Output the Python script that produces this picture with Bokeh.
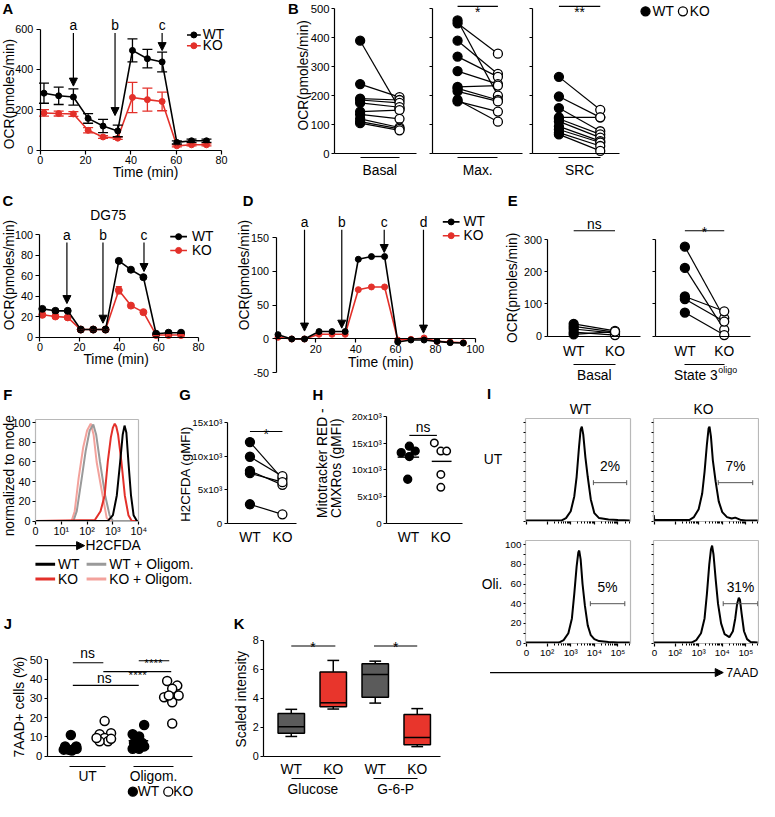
import numpy as np
from bokeh.plotting import figure
from bokeh.models import (Range1d, LinearAxis, FixedTicker, Arrow, NormalHead,
                          Whisker, TeeHead, ColumnDataSource)
from bokeh.core.properties import value
from bokeh.embed import file_html
from bokeh.resources import INLINE

# =============================== DATA ===============================
# A  OCR time course, primary cells (pmoles/min)
a_time = [1.6, 8.1, 14.6, 21.1, 27.7, 34.2, 40.7, 47.3, 53.8, 60.3, 66.8, 73.4]
a_wt = [282, 269, 263, 157, 119, 95, 494, 453, 437, 38, 46, 46]
a_wt_err = [50, 43, 40, 24, 33, 29, 57, 46, 49, 8, 8, 8]
a_ko = [184, 181, 179, 98, 65, 59, 261, 250, 241, 21, 26, 26]
a_ko_err = [16, 12, 12, 13, 7, 6, 75, 57, 46, 5, 5, 5]
a_ticks_x = [0, 20, 40, 60, 80]
a_ticks_y = [0, 200, 400, 600]

# B  paired OCR values (pmoles/min)
b_basal_wt = [390, 240, 190, 185, 175, 145, 135, 120, 110, 105]
b_basal_ko = [155, 195, 185, 175, 160, 150, 120, 90, 85, 80]
b_max_wt = [460, 450, 390, 335, 285, 230, 225, 215, 180, 185]
b_max_ko = [200, 345, 275, 265, 240, 235, 185, 180, 145, 110]
b_src_wt = [265, 197, 157, 125, 120, 111, 94, 83, 72, 66]
b_src_ko = [151, 125, 77, 125, 66, 55, 43, 38, 26, 9]
b_ticks = [0, 100, 200, 300, 400, 500]

# C  DG75 time course
c_time = [1.2, 7.8, 14.0, 20.6, 26.9, 33.1, 39.8, 45.9, 52.2, 58.6, 64.9, 71.2]
c_wt = [27.5, 25.6, 25.6, 7.3, 7.3, 7.3, 74.4, 65.8, 58.5, 3.2, 4.2, 4.2]
c_wt_err = [1.5, 1.5, 1.5, 1, 1, 1, 1.5, 1.5, 1.5, 0.5, 0.5, 0.5]
c_ko = [21.7, 20.1, 19.2, 7.3, 7.3, 7.3, 45.7, 30.7, 24.3, 2.0, 2.0, 2.0]
c_ko_err = [1.5, 1.5, 1.5, 1, 1, 1, 3.5, 2, 1.5, 0.5, 0.5, 0.5]
c_ticks_x = [0, 20, 40, 60, 80]
c_ticks_y = [0, 20, 40, 60, 80, 100]

# D  time course, four injections
d_time = [1.0, 7.9, 14.3, 21.6, 28.1, 34.7, 41.3, 47.9, 54.5, 61.1, 67.7, 74.3, 80.8, 87.4, 94.0]
d_wt = [6.4, 0, 0, 11, 11, 11, 118, 122, 122, -4.4, -1.5, -1.5, -3.5, -5.4, -6.0]
d_ko = [2.5, 0, 0, 7, 7, 7, 73, 77, 77, -1.5, -0.5, 1.5, -3.5, -4.5, -5.5]
d_ticks_x = [20, 40, 60, 80, 100]
d_ticks_y = [-50, 0, 50, 100, 150]

# E  paired OCR
e_basal_wt = [38, 30, 22, 12, 5]
e_basal_ko = [16, 12, 9, 3, 14]
e_state3_wt = [278, 212, 123, 115, 73]
e_state3_ko = [56, 20, 77, 45, 3]
e_ticks = [0, 100, 200, 300]

# F  H2CFDA histograms (x in display decades, y in % of mode)
f_wt_x = [0.0, 2.8, 3.0, 3.15, 3.28, 3.38, 3.45, 3.52, 3.6, 3.7, 3.8, 3.93, 4.0]
f_wt_y = [0, 0, 6, 26, 60, 88, 97, 90, 60, 26, 6, 0, 0]
f_ko_x = [0.0, 2.3, 2.52, 2.68, 2.8, 2.92, 3.0, 3.07, 3.13, 3.2, 3.33, 3.46, 3.6, 3.73, 4.0]
f_ko_y = [0, 1, 10, 26, 60, 85, 95, 99, 96, 88, 60, 26, 6, 0, 0]
f_wt_oligo_x = [0.0, 1.47, 1.6, 1.79, 1.95, 2.1, 2.24, 2.35, 2.5, 2.7, 2.87, 3.0, 4.0]
f_wt_oligo_y = [0, 0, 10, 43, 72, 92, 98, 88, 60, 26, 6, 0, 0]
f_ko_oligo_x = [0.0, 1.4, 1.52, 1.67, 1.85, 2.0, 2.14, 2.25, 2.37, 2.6, 2.76, 2.9, 4.0]
f_ko_oligo_y = [0, 0, 10, 43, 75, 92, 99, 88, 60, 26, 3, 0, 0]
f_ticks_x = [0, 1, 2, 3, 4]
f_tick_labels_x = ["0", "10¹", "10²", "10³", "10⁴"]
f_ticks_y = [0, 20, 40, 60, 80, 100]

# G  H2CFDA gMFI, paired
g_wt = [12100, 9900, 7800, 7450, 2800]
g_ko = [6600, 7000, 5700, 6100, 1300]
g_ticks = [0, 5000, 10000, 15000]
g_tick_labels = ["0", "5x10³", "10x10³", "15x10³"]

# H  Mitotracker gMFI
h_wt = [13240, 14450, 13540, 12500, 8230]
h_wt_jitter = [-0.22, 0.03, 0.21, 0.03, -0.02]
h_ko = [15070, 13540, 13540, 9150, 6710]
h_ko_jitter = [-0.2, 0.0, 0.18, 0.0, 0.0]
h_ticks = [0, 5000, 10000, 15000, 20000]
h_tick_labels = ["0", "5x10³", "10x10³", "15x10³", "20x10³"]

# I  7AAD histograms (x in display decades, y in % of mode)
i_ut_wt_x = [1.1, 2.6, 2.8, 3.0, 3.15, 3.25, 3.35, 3.42, 3.47, 3.53, 3.62, 3.72, 3.85, 4.0, 4.2, 4.6, 5.0, 5.5]
i_ut_wt_y = [0.5, 0.5, 3, 10, 25, 45, 75, 93, 96, 88, 65, 45, 22, 8, 3, 1.5, 1, 0.5]
i_ut_ko_x = [1.1, 1.12, 1.2, 2.6, 2.8, 3.0, 3.15, 3.25, 3.35, 3.42, 3.46, 3.52, 3.6, 3.72, 3.85, 4.0,
             4.2, 4.4, 4.55, 4.65, 4.8, 5.0, 5.5]
i_ut_ko_y = [6, 1, 1, 1, 4, 12, 28, 50, 78, 94, 96, 86, 62, 40, 20, 9, 4, 2.5, 3.5, 2.5, 1, 0.5, 0.5]
i_oli_wt_x = [1.1, 2.5, 2.7, 2.9, 3.05, 3.15, 3.25, 3.32, 3.36, 3.42, 3.5, 3.6, 3.72, 3.85, 4.0, 4.2, 4.6, 5.0, 5.5]
i_oli_wt_y = [0.5, 0.5, 3, 10, 25, 50, 78, 92, 94, 85, 60, 38, 18, 8, 4, 2, 1, 0.5, 0.5]
i_oli_ko_x = [1.1, 2.7, 2.9, 3.1, 3.25, 3.35, 3.45, 3.52, 3.57, 3.63, 3.72, 3.82, 3.95, 4.1, 4.3,
              4.45, 4.55, 4.63, 4.7, 4.75, 4.82, 4.92, 5.05, 5.2, 5.5]
i_oli_ko_y = [0.5, 0.5, 3, 10, 25, 50, 80, 95, 99, 90, 65, 40, 20, 9, 6, 12, 25, 40, 46, 44, 30, 12, 4, 1, 0.5]
i_gate_start = [3.96, 3.83, 3.83, 4.04]
i_gate_end = [5.37, 5.29, 5.29, 5.50]
i_gate_labels = ["2%", "7%", "5%", "31%"]
i_ticks_x = [1.125, 2, 3, 4, 5]
i_tick_labels_x = ["0", "10²", "10³", "10⁴", "10⁵"]
i_ticks_y = [0, 20, 40, 60, 80, 100]

# J  7AAD+ cells (%)
j_ut_wt = [11.0, 5.1, 5.1, 3.4, 3.9, 3.4, 2.9, 3.9]
j_ut_wt_jitter = [0.0, -0.17, 0.16, -0.07, 0.17, -0.21, 0.03, 0.1]
j_ut_ko = [18.2, 11.9, 11.4, 9.4, 7.7, 7.7, 9.4, 9.0]
j_ut_ko_jitter = [0.0, 0.19, -0.15, 0.0, 0.1, -0.15, -0.24, 0.19]
j_oli_wt = [16.2, 11.4, 10.2, 6.8, 3.9, 3.9, 6.8, 7.7, 5.1]
j_oli_wt_jitter = [0.17, -0.17, 0.02, -0.13, -0.17, 0.02, 0.12, -0.03, 0.17]
j_oli_ko = [39.0, 36.6, 35.0, 30.6, 28.0, 31.5, 31.5, 17.0]
j_oli_ko_jitter = [-0.15, 0.15, 0.0, -0.24, 0.0, 0.19, -0.1, 0.0]
j_ticks = [0, 10, 20, 30, 40, 50]

# K  scaled intensity box plots
k_labels = ["WT", "KO", "WT", "KO"]
k_min = [1.36, 3.25, 3.66, 0.66]
k_q1 = [1.58, 3.41, 4.07, 0.79]
k_med = [2.03, 3.68, 5.63, 1.29]
k_q3 = [2.94, 5.81, 6.37, 2.87]
k_max = [3.23, 6.60, 6.55, 3.28]
k_ticks = [0, 2, 4, 6, 8]

# =============================== STYLE / CANVAS ===============================
FONT = "Liberation Sans"
RED = "#e3302a"
PINK = "#f3a29c"
GRAY = "#9a9a9a"
KRED = "#e8352c"
KGRAY = "#5b5b5b"
FRAME = "#b8b8b8"
k_colors = [KGRAY, KRED, KGRAY, KRED]

W, H = 759, 801
SC = 0.984
OFFX, OFFY = 2.5, 4.0
RX0, RX1 = OFFX, OFFX + W / SC
RY0, RY1 = OFFY, OFFY + H / SC


def F(n):
    return f"{n * SC:.1f}px"


XR, YR, TR = {}, {}, {}


def panel(name, xa, ya):
    dx0, rx0, dx1, rx1 = xa
    sx = (dx1 - dx0) / (rx1 - rx0)
    dy0, ry0, dy1, ry1 = ya
    sy = (dy1 - dy0) / (ry1 - ry0)
    XR[name] = Range1d(start=dx0 + (RX0 - rx0) * sx, end=dx0 + (RX1 - rx0) * sx)
    YR[name] = Range1d(start=dy0 + (RY1 - ry0) * sy, end=dy0 + (RY0 - ry0) * sy)
    TR[name] = (dx0, rx0, sx, dy0, ry0, sy)


def vx(n, r):
    dx0, rx0, sx = TR[n][:3]
    return float(dx0 + (r - rx0) * sx)


def vy(n, r):
    dy0, ry0, sy = TR[n][3:]
    return float(dy0 + (r - ry0) * sy)


panel("A", (0, 43, 80, 227), (0, 156, 600, 33))
panel("B1", (0, 368, 1, 408), (0, 159.5, 500, 12.5))
panel("B2", (0, 467, 1, 508), (0, 159.5, 500, 12.5))
panel("B3", (0, 570, 1, 612), (0, 159.5, 500, 12.5))
panel("C", (0, 42.6, 80, 203.7), (0, 346, 100, 242))
panel("D", (20, 323, 100, 485), (0, 348, 150, 245))
panel("E1", (0, 585, 1, 627), (0, 345, 300, 247))
panel("E2", (0, 698, 1, 738), (0, 345, 300, 247))
panel("F", (0, 38, 4, 143), (0, 533, 100, 433))
panel("G", (0, 256, 1, 289), (0, 535, 15000, 433))
panel("H", (0, 417, 1, 450), (0, 535, 20000, 427))
panel("I1", (2, 558, 3, 582), (0, 533, 100, 433))
panel("I2", (2, 688, 3, 712), (0, 533, 100, 433))
panel("I3", (2, 558, 3, 582), (0, 657, 100, 557))
panel("I4", (2, 688, 3, 712), (0, 657, 100, 557))
panel("J", (0, 74, 3, 177), (0, 772, 50, 674))
panel("K", (0, 298, 3, 426), (0, 772, 8, 654))

p = figure(width=W, height=H, output_backend="svg", toolbar_location=None,
           x_range=Range1d(RX0, RX1), y_range=Range1d(-RY1, -RY0),
           x_axis_type=None, y_axis_type=None, min_border=0,
           outline_line_color=None, background_fill_color="white",
           border_fill_color="white")
p.extra_x_ranges = XR
p.extra_y_ranges = YR


def R(rn):
    return dict(x_range_name=rn, y_range_name=rn) if rn else {}


def my(rn, y):
    return y if rn else -y


def text(x, y, s, size=14, align="center", baseline="middle", angle=0.0,
         bold=False, color="black", rn=None):
    p.text(x=[x], y=[my(rn, y)], text=[s], text_font=value(FONT), text_font_size=F(size),
           text_align=align, text_baseline=baseline, angle=angle,
           text_font_style="bold" if bold else "normal", text_color=color, **R(rn))


def seg(x0, y0, x1, y1, color="black", width=1.2, rn=None):
    a = np.broadcast_arrays(np.atleast_1d(np.asarray(x0, float)),
                            np.atleast_1d(np.asarray(y0, float)),
                            np.atleast_1d(np.asarray(x1, float)),
                            np.atleast_1d(np.asarray(y1, float)))
    ys0 = a[1] if rn else -a[1]
    ys1 = a[3] if rn else -a[3]
    p.segment(x0=a[0].tolist(), y0=ys0.tolist(), x1=a[2].tolist(), y1=ys1.tolist(),
              line_color=color, line_width=width, **R(rn))


def dots(x, y, rn, size=9, fill="black", line="black", lw=1.3):
    ys = [float(v) if rn else -float(v) for v in y]
    p.scatter(x=[float(v) for v in x], y=ys, marker="circle", size=size,
              fill_color=fill, line_color=line, line_width=lw, **R(rn))


def arrow(x0, y0, x1, y1, rn=None, head=8, lw=1.2):
    p.add_layout(Arrow(x_start=x0, y_start=my(rn, y0), x_end=x1, y_end=my(rn, y1),
                       line_width=lw, line_color="black",
                       end=NormalHead(size=head, fill_color="black", line_color="black", line_width=1),
                       **R(rn)))


def errbars(rn, x, y, e, color, cap=9):
    y = np.asarray(y, float)
    e = np.asarray(e, float)
    src = ColumnDataSource(dict(base=list(x), lower=(y - e).tolist(), upper=(y + e).tolist()))
    w = Whisker(source=src, base="base", lower="lower", upper="upper", dimension="height",
                line_color=color, line_width=1.3,
                upper_head=TeeHead(size=cap, line_color=color, line_width=1.3),
                lower_head=TeeHead(size=cap, line_color=color, line_width=1.3),
                level="glyph", **R(rn))
    p.add_layout(w)


def axis(side, rn, loc, bounds, ticks=(), labels=None, size=11, tick_out=4, standoff=3,
         line_color="black", minor=()):
    ticks = [float(t) for t in ticks]
    ax = LinearAxis(x_range_name=rn, y_range_name=rn, fixed_location=float(loc),
                    bounds=(float(bounds[0]), float(bounds[1])),
                    ticker=FixedTicker(ticks=ticks, minor_ticks=[float(m) for m in minor]),
                    axis_line_color=line_color, axis_line_width=1.2,
                    major_tick_line_color="black" if (ticks and tick_out > 0) else None,
                    major_tick_line_width=1.2, major_tick_in=0, major_tick_out=tick_out,
                    minor_tick_line_color="black" if len(minor) else None,
                    minor_tick_in=0, minor_tick_out=2, minor_tick_line_width=1,
                    major_label_standoff=standoff,
                    major_label_text_font=FONT, major_label_text_font_size=F(size),
                    major_label_text_color="black" if labels else None)
    if labels:
        ax.major_label_overrides = {t: l for t, l in zip(ticks, labels)}
    p.add_layout(ax, side)
    return ax


def lc_legend(x0, x1, xt, ys):
    for (lab, c), y in zip((("WT", "black"), ("KO", RED)), ys):
        seg(x0, y, x1, y, color=c, width=1.6)
        dots([(x0 + x1) / 2], [y], None, size=6, fill=c, line=c, lw=1)
        text(xt, y, lab, size=14, align="left")


def letter(x, y, s):
    text(x, y, s, size=15, bold=True)


VERT = np.pi / 2

# ------------------------------- A -------------------------------
axis("left", "A", 0, (0, 600), a_ticks_y, [str(t) for t in a_ticks_y], size=11, standoff=3)
axis("below", "A", 0, (0, 80), a_ticks_x, [str(t) for t in a_ticks_x], size=11, standoff=2)
for ys, es, c in ((a_ko, a_ko_err, RED), (a_wt, a_wt_err, "black")):
    p.line(a_time, ys, line_color=c, line_width=1.6, **R("A"))
    errbars("A", a_time, ys, es, c, cap=10)
    dots(a_time, ys, "A", size=6, fill=c, line=c, lw=1)
for lab, t, tip in (("a", 14.6, 317), ("b", 33.0, 171), ("c", 53.8, 493)):
    arrow(t, vy("A", 37), t, tip, rn="A")
    text(t, vy("A", 29), lab, size=14, rn="A")
text(150, 179, "Time (min)", size=14)
text(11.5, 99, "OCR(pmoles/min)", size=14, angle=VERT)
lc_legend(192, 206, 208, (39, 50))
letter(10, 13, "A")

# ------------------------------- B -------------------------------
for rn, wt, ko, cat, axl, axr in (("B1", b_basal_wt, b_basal_ko, "Basal", 342, 425),
                                   ("B2", b_max_wt, b_max_ko, "Max.", 442, 533),
                                   ("B3", b_src_wt, b_src_ko, "SRC", 543, 632)):
    labs = [str(t) for t in b_ticks] if rn == "B1" else None
    axis("left", rn, vx(rn, axl), (0, 500), b_ticks, labs, size=11.5, tick_out=3, standoff=2)
    axis("below", rn, 0, (vx(rn, axl), vx(rn, axr)))
    axis("below", rn, vy(rn, 164), (0, 1))
    n = len(wt)
    seg([0] * n, wt, [1] * n, ko, width=1.2, rn=rn)
    dots([0] * n, wt, rn, size=9)
    dots([1] * n, ko, rn, size=9, fill="white")
    text(0.5, vy(rn, 177), cat, size=14, rn=rn)
for rn, s in (("B2", "*"), ("B3", "**")):
    seg(0, vy(rn, 10), 1, vy(rn, 10), rn=rn)
    text(0.5, vy(rn, 16), s, size=14, baseline="alphabetic", rn=rn)
text(310, 80, "OCR(pmoles/min)", size=14, angle=VERT)
dots([658], [15], None, size=9)
text(665, 15, "WT", size=14, align="left")
dots([696], [15], None, size=9, fill="white")
text(703, 15, "KO", size=14, align="left")
letter(300, 13, "B")

# ------------------------------- C -------------------------------
axis("left", "C", 0, (0, 100), c_ticks_y, [str(t) for t in c_ticks_y], size=11, standoff=3)
axis("below", "C", 0, (0, 80), c_ticks_x, [str(t) for t in c_ticks_x], size=11, standoff=2)
for ys, es, c in ((c_ko, c_ko_err, RED), (c_wt, c_wt_err, "black")):
    p.line(c_time, ys, line_color=c, line_width=1.6, **R("C"))
    errbars("C", c_time, ys, es, c, cap=6)
    dots(c_time, ys, "C", size=7, fill=c, line=c, lw=1)
for lab, t, tip in (("a", 13.6, 32.7), ("b", 31.8, 13.5), ("c", 52.5, 64)):
    arrow(t, vy("C", 250), t, tip, rn="C")
    text(t, vy("C", 243), lab, size=14, rn="C")
text(112, 223, "DG75", size=14)
text(120, 369, "Time (min)", size=14)
text(11.5, 283, "OCR(pmoles/min)", size=14, angle=VERT)
lc_legend(175, 192, 197, (244, 258))
letter(10, 208, "C")

# ------------------------------- D -------------------------------
axis("left", "D", 0, (-50, 150), d_ticks_y, [str(t) for t in d_ticks_y], size=11, standoff=3)
axis("below", "D", 0, (0, 100), d_ticks_x, [str(t) for t in d_ticks_x], size=11, standoff=2)
for ys, c in ((d_ko, RED), (d_wt, "black")):
    p.line(d_time, ys, line_color=c, line_width=1.6, **R("D"))
    dots(d_time, ys, "D", size=6, fill=c, line=c, lw=1)
for lab, t, tip in (("a", 14.3, 11.7), ("b", 33.0, 16), ("c", 54.3, 128), ("d", 74.0, 8.7)):
    arrow(t, vy("D", 237), t, tip, rn="D")
    text(t, vy("D", 230), lab, size=14, rn="D")
text(389, 372, "Time (min)", size=14)
text(250, 283, "OCR(pmoles/min)", size=14, angle=VERT)
lc_legend(452, 469, 473, (229, 243))
letter(254, 208, "D")

# ------------------------------- E -------------------------------
for rn, wt, ko, axl, axr in (("E1", e_basal_wt, e_basal_ko, 558, 653),
                              ("E2", e_state3_wt, e_state3_ko, 668, 765)):
    labs = [str(t) for t in e_ticks] if rn == "E1" else None
    axis("left", rn, vx(rn, axl), (0, 300), e_ticks, labs, size=11, tick_out=3, standoff=2)
    axis("below", rn, 0, (vx(rn, axl), vx(rn, axr)), [0, 1], ["WT", "KO"], size=14,
         tick_out=0, standoff=8)
    axis("below", rn, vy(rn, 374), (0, 1))
    n = len(wt)
    seg([0] * n, wt, [1] * n, ko, width=1.2, rn=rn)
    dots([0] * n, wt, rn, size=9)
    dots([1] * n, ko, rn, size=9, fill="white")
    seg(0, vy(rn, 238), 1, vy(rn, 238), rn=rn)
text(0.5, vy("E1", 232), "ns", size=14, rn="E1")
text(0.5, vy("E2", 240), "*", size=14, baseline="alphabetic", rn="E2")
text(606, 385, "Basal", size=14)
text(687, 385, "State 3", size=14, align="left")
text(732, 380, "oligo", size=9, align="left")
text(523, 296, "OCR(pmoles/min)", size=14, angle=VERT)
letter(523, 208, "E")

# ------------------------------- F -------------------------------
axis("left", "F", 0, (0, 103), f_ticks_y, [str(t) for t in f_ticks_y], size=11, tick_out=3,
     standoff=2, line_color=FRAME)
axis("below", "F", 0, (0, 4), f_ticks_x, f_tick_labels_x, size=11, tick_out=3, standoff=1,
     line_color=FRAME)
axis("above", "F", 103, (0, 4), line_color=FRAME)
axis("right", "F", 4, (0, 103), line_color=FRAME)
for xs, ys, c in ((f_ko_oligo_x, f_ko_oligo_y, PINK), (f_wt_oligo_x, f_wt_oligo_y, GRAY),
                  (f_ko_x, f_ko_y, RED), (f_wt_x, f_wt_y, "black")):
    p.line(xs, ys, line_color=c, line_width=2, **R("F"))
text(11.5, 487, "normalized to mode", size=14, angle=VERT)
arrow(38, 558, 88, 558, head=8)
text(89, 558, "H2CFDA", size=14, align="left")
for (lab, c), (x0, y) in zip((("WT", "black"), ("WT + Oligom.", GRAY), ("KO", RED), ("KO + Oligom.", PINK)),
                             ((38, 577), (90, 577), (38, 592), (90, 592))):
    seg(x0, y, x0 + 20, y, color=c, width=3)
    text(x0 + 23, y, lab, size=14, align="left")
letter(10, 405, "F")

# ------------------------------- G -------------------------------
axis("left", "G", vx("G", 233), (0, 15000), g_ticks, g_tick_labels, size=10, tick_out=3, standoff=2)
axis("below", "G", 0, (vx("G", 233), vx("G", 303)), [0, 1], ["WT", "KO"], size=14, tick_out=0, standoff=7)
n = len(g_wt)
seg([0] * n, g_wt, [1] * n, g_ko, width=1.2, rn="G")
dots([0] * n, g_wt, "G", size=9)
dots([1] * n, g_ko, "G", size=9, fill="white")
seg(0, vy("G", 442), 1, vy("G", 442), rn="G")
text(0.5, vy("G", 445), "*", size=14, baseline="alphabetic", rn="G")
text(191, 485, "H2CFDA (gMFI)", size=13.5, angle=VERT)
letter(190, 405, "G")

# ------------------------------- H -------------------------------
axis("left", "H", vx("H", 395), (0, 20000), h_ticks, h_tick_labels, size=10, tick_out=3, standoff=2)
axis("below", "H", 0, (vx("H", 395), vx("H", 472)), [0, 1], ["WT", "KO"], size=14, tick_out=0, standoff=7)
dots(np.asarray(h_wt_jitter) + 0, h_wt, "H", size=8)
dots(np.asarray(h_ko_jitter) + 1, h_ko, "H", size=7.5, fill="white", lw=1.5)
seg(-0.33, float(np.mean(h_wt)), 0.33, float(np.mean(h_wt)), width=1.4, rn="H")
seg(1 - 0.28, float(np.mean(h_ko)), 1 + 0.33, float(np.mean(h_ko)), width=1.4, rn="H")
seg(vx("H", 418), vy("H", 446), vx("H", 446), vy("H", 446), rn="H")
text(432, 438, "ns", size=14)
text(330, 530, "Mitotracker RED -", size=14, align="left", angle=VERT)
text(344, 530, "CMXRos (gMFI)", size=14, align="left", angle=VERT)
letter(325, 405, "H")

# ------------------------------- I -------------------------------
i_minor_x = sorted([d + np.log10(k) for d in (2, 3, 4) for k in range(2, 10)] +
                   [5 + np.log10(k) for k in (2, 3)])
i_hists = ((i_ut_wt_x, i_ut_wt_y), (i_ut_ko_x, i_ut_ko_y), (i_oli_wt_x, i_oli_wt_y), (i_oli_ko_x, i_oli_ko_y))
for k, rn in enumerate(("I1", "I2", "I3", "I4")):
    xl = i_tick_labels_x if rn in ("I3", "I4") else None
    yl = [str(t) for t in i_ticks_y] if rn == "I3" else None
    axis("left", rn, 1.083, (0, 104), i_ticks_y, yl, size=10, tick_out=2, standoff=2,
         line_color=FRAME, minor=[10, 30, 50, 70, 90])
    axis("below", rn, 0, (1.083, 5.54), i_ticks_x, xl, size=10, tick_out=3, standoff=1,
         line_color=FRAME, minor=i_minor_x)
    axis("above", rn, 104, (1.083, 5.54), line_color=FRAME)
    axis("right", rn, 5.54, (0, 104), line_color=FRAME)
    hx, hy = i_hists[k]
    p.line(hx, hy, line_color="black", line_width=2, **R(rn))
    g0, g1 = i_gate_start[k], i_gate_end[k]
    gy = 39 if k < 2 else 40
    seg(g0, gy, g1, gy, color="#555555", width=1, rn=rn)
    seg([g0, g1], gy - 2.5, [g0, g1], gy + 2.5, color="#555555", width=1, rn=rn)
    text((g0 + g1) / 2, gy + 16, i_gate_labels[k], size=14, rn=rn)
text(592, 420, "WT", size=14)
text(717, 420, "KO", size=14)
text(503, 470, "UT", size=14)
text(502, 598, "Oli.", size=14)
arrow(500, 687, 737, 687, head=8)
text(740, 687, "7AAD", size=12.5, align="left")
letter(499, 404, "I")

# ------------------------------- J -------------------------------
axis("left", "J", vx("J", 50), (0, 50), j_ticks, [str(t) for t in j_ticks], size=11.5, tick_out=3, standoff=2)
axis("below", "J", 0, (vx("J", 50), vx("J", 198)))
axis("below", "J", vy("J", 782), (-0.03, 1.02))
axis("below", "J", vy("J", 782), (1.86, 3.03))
for g, (vals, jit, fill) in enumerate(((j_ut_wt, j_ut_wt_jitter, "black"), (j_ut_ko, j_ut_ko_jitter, "white"),
                                       (j_oli_wt, j_oli_wt_jitter, "black"), (j_oli_ko, j_oli_ko_jitter, "white"))):
    m = float(np.mean(vals))
    seg(g - 0.29, m, g + 0.29, m, width=1.4, rn="J")
    dots(np.asarray(jit) + g, vals, "J", size=9, fill=fill, lw=1.5)
for x0, x1, y in ((76, 107, 677), (143, 174, 675), (107, 176, 686), (76, 143, 700)):
    seg(vx("J", x0), vy("J", y), vx("J", x1), vy("J", y), rn="J")
text(91, 668, "ns", size=14)
text(108, 693, "ns", size=14)
text(158, 677, "****", size=12, baseline="alphabetic")
text(142, 689, "****", size=12, baseline="alphabetic")
text(91, 793, "UT", size=14)
text(158, 793, "Oligom.", size=14)
dots([137], [808], None, size=9)
text(142, 808, "WT", size=14, align="left")
dots([173], [808], None, size=9, fill="white")
text(178, 808, "KO", size=14, align="left")
text(22, 722, "7AAD+ cells (%)", size=14, angle=VERT)
letter(10, 638, "J")

# ------------------------------- K -------------------------------
axis("left", "K", vx("K", 270), (0, 8), k_ticks, [str(t) for t in k_ticks], size=11, tick_out=3, standoff=2)
axis("below", "K", 0, (vx("K", 270), vx("K", 450)), [0, 1, 2, 3], k_labels, size=14, tick_out=0, standoff=6)
axis("below", "K", vy("K", 795), (0, 1.05))
axis("below", "K", vy("K", 795), (1.97, 3))
kpos = np.arange(len(k_labels), dtype=float)
seg(kpos, k_q3, kpos, k_max, width=1.5, rn="K")
seg(kpos, k_min, kpos, k_q1, width=1.5, rn="K")
seg(kpos - 0.14, k_max, kpos + 0.14, k_max, width=1.5, rn="K")
seg(kpos - 0.14, k_min, kpos + 0.14, k_min, width=1.5, rn="K")
p.quad(left=(kpos - 0.315).tolist(), right=(kpos + 0.315).tolist(), bottom=k_q1, top=k_q3,
       fill_color=k_colors, line_color="black", line_width=1.5, **R("K"))
seg(kpos - 0.315, k_med, kpos + 0.315, k_med, width=1.5, rn="K")
seg(0, vy("K", 660), 1.05, vy("K", 660), rn="K")
seg(1.97, vy("K", 660), 3, vy("K", 660), rn="K")
text(320, 662, "*", size=14, baseline="alphabetic")
text(404, 662, "*", size=14, baseline="alphabetic")
text(320, 806, "Glucose", size=14)
text(404, 806, "G-6-P", size=14)
text(247, 714, "Scaled intensity", size=14, angle=VERT)
letter(245, 638, "K")

open("out.html", "w").write(file_html(p, INLINE, title="figure"))
